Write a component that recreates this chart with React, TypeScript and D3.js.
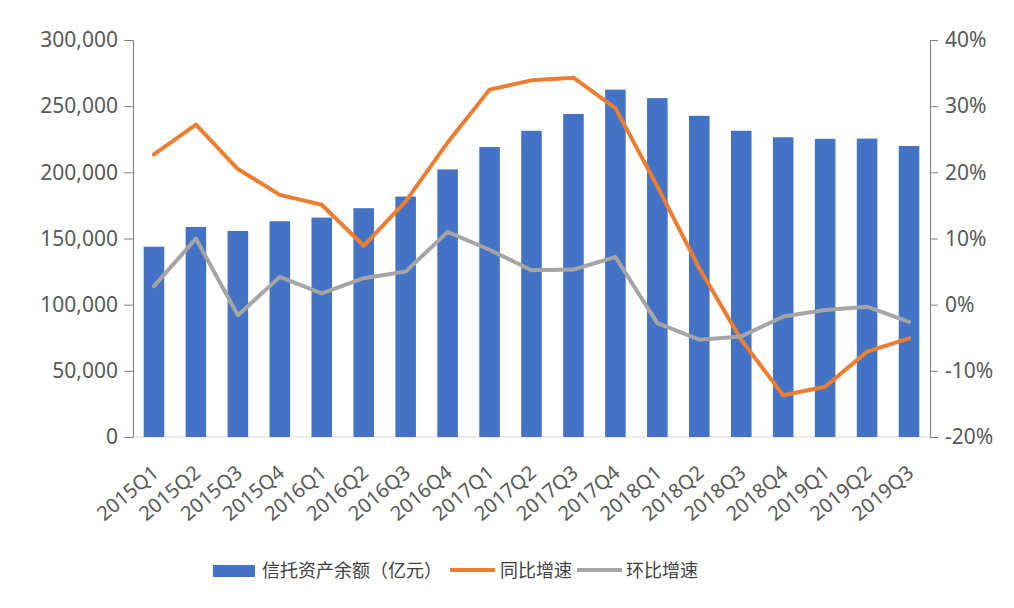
import React, { useEffect, useRef } from "react";
import * as d3 from "d3";

const categories = [
  "2015Q1", "2015Q2", "2015Q3", "2015Q4",
  "2016Q1", "2016Q2", "2016Q3", "2016Q4",
  "2017Q1", "2017Q2", "2017Q3", "2017Q4",
  "2018Q1", "2018Q2", "2018Q3", "2018Q4",
  "2019Q1", "2019Q2", "2019Q3",
];
const balance = [
  143800, 158700, 155700, 163000,
  165800, 172900, 181700, 202200,
  219100, 231400, 244100, 262500,
  256100, 242700, 231400, 226500,
  225300, 225500, 219900,
];
const yoy = [
  22.7, 27.2, 20.5, 16.6,
  15.1, 8.9, 15.6, 24.5,
  32.5, 33.9, 34.3, 29.7,
  17.9, 5.5, -5.3, -13.7,
  -12.4, -7.1, -5.1,
];
const qoq = [
  2.8, 10.0, -1.6, 4.2,
  1.7, 4.0, 5.0, 11.0,
  8.3, 5.2, 5.3, 7.2,
  -2.8, -5.3, -4.8, -1.8,
  -0.8, -0.3, -2.6,
];
const leftTicks = [0, 50000, 100000, 150000, 200000, 250000, 300000];
const rightTicks = [-20, -10, 0, 10, 20, 30, 40];
const legendLabels = ["信托资产余额（亿元）", "同比增速", "环比增速"];

const W = 1014;
const H = 608;
const X0 = 133;
const X1 = 930;
const YT = 40;
const YB = 437;
const BLUE = "#4472C4";
const ORANGE = "#ED7D31";
const GRAY = "#A5A5A5";
const AXIS = "#7f7f7f";
const TEXT = "#595959";
const FONT = "'Noto Sans', 'Open Sans', sans-serif";
const CJK = "'Noto Sans CJK SC', sans-serif";

export default function App() {
  const ref = useRef<SVGSVGElement | null>(null);

  useEffect(() => {
    const svg = d3.select(ref.current);
    svg.selectAll("*").remove();

    const x = d3.scaleBand<string>().domain(categories).range([X0, X1])
      .paddingInner(0.51).paddingOuter(0.255);
    const yL = d3.scaleLinear().domain([0, 300000]).range([YB, YT]);
    const yR = d3.scaleLinear().domain([-20, 40]).range([YB, YT]);

    // baseline
    svg.append("line")
      .attr("x1", X0).attr("x2", X1).attr("y1", YB).attr("y2", YB)
      .attr("stroke", "#d9d9d9").attr("stroke-width", 1);

    // bars
    svg.append("g").selectAll("rect").data(categories).join("rect")
      .attr("x", (d) => x(d)!)
      .attr("width", x.bandwidth())
      .attr("y", (_, i) => yL(balance[i]))
      .attr("height", (_, i) => YB - yL(balance[i]))
      .attr("fill", BLUE);

    const line = (vals: number[]) =>
      d3.line<number>()
        .x((_, i) => x(categories[i])! + x.bandwidth() / 2)
        .y((v) => yR(v))(vals);

    svg.append("path").attr("d", line(yoy)!)
      .attr("fill", "none").attr("stroke", ORANGE).attr("stroke-width", 4)
      .attr("stroke-linejoin", "round").attr("stroke-linecap", "round");
    svg.append("path").attr("d", line(qoq)!)
      .attr("fill", "none").attr("stroke", GRAY).attr("stroke-width", 4)
      .attr("stroke-linejoin", "round").attr("stroke-linecap", "round");

    // left axis
    const gl = svg.append("g").attr("transform", `translate(${X0},0)`)
      .call(d3.axisLeft(yL).tickValues(leftTicks).tickFormat(d3.format(",") as any)
        .tickSize(9).tickSizeOuter(0).tickPadding(6));
    gl.select(".domain").attr("stroke", AXIS);
    gl.selectAll(".tick line").attr("stroke", AXIS);
    gl.selectAll(".tick text").attr("fill", TEXT).attr("font-size", 21)
      .attr("font-family", FONT);

    // right axis
    const gr = svg.append("g").attr("transform", `translate(${X1},0)`)
      .call(d3.axisRight(yR).tickValues(rightTicks).tickFormat((d: any) => `${d}%`)
        .tickSize(8).tickSizeOuter(0).tickPadding(7));
    gr.select(".domain").attr("stroke", AXIS);
    gr.selectAll(".tick line").attr("stroke", AXIS);
    gr.selectAll(".tick text").attr("fill", TEXT).attr("font-size", 21)
      .attr("font-family", FONT);

    // x labels
    const gx = svg.append("g").attr("transform", `translate(0,${YB})`)
      .call(d3.axisBottom(x).tickSize(0).tickPadding(0));
    gx.select(".domain").remove();
    gx.selectAll(".tick text")
      .attr("fill", TEXT).attr("font-size", 20).attr("font-family", FONT)
      .attr("text-anchor", "end")
      .attr("dy", "0")
      .attr("transform", "translate(6,38) rotate(-40)");

    // legend
    const lg = svg.append("g").attr("font-family", CJK).attr("font-size", 18)
      .attr("fill", "#404040");
    lg.append("rect").attr("x", 213).attr("y", 565).attr("width", 42).attr("height", 12)
      .attr("fill", BLUE);
    lg.append("text").attr("x", 262).attr("y", 571).attr("dy", "0.35em").text(legendLabels[0]);
    lg.append("line").attr("x1", 450).attr("x2", 495).attr("y1", 570).attr("y2", 570)
      .attr("stroke", ORANGE).attr("stroke-width", 4);
    lg.append("text").attr("x", 500).attr("y", 571).attr("dy", "0.35em").text(legendLabels[1]);
    lg.append("line").attr("x1", 577).attr("x2", 622).attr("y1", 570).attr("y2", 570)
      .attr("stroke", GRAY).attr("stroke-width", 4);
    lg.append("text").attr("x", 626).attr("y", 571).attr("dy", "0.35em").text(legendLabels[2]);
  }, []);

  return (
    <svg ref={ref} width={W} height={H}
      style={{ position: "absolute", left: 0, top: 0, background: "#fff" }} />
  );
}
